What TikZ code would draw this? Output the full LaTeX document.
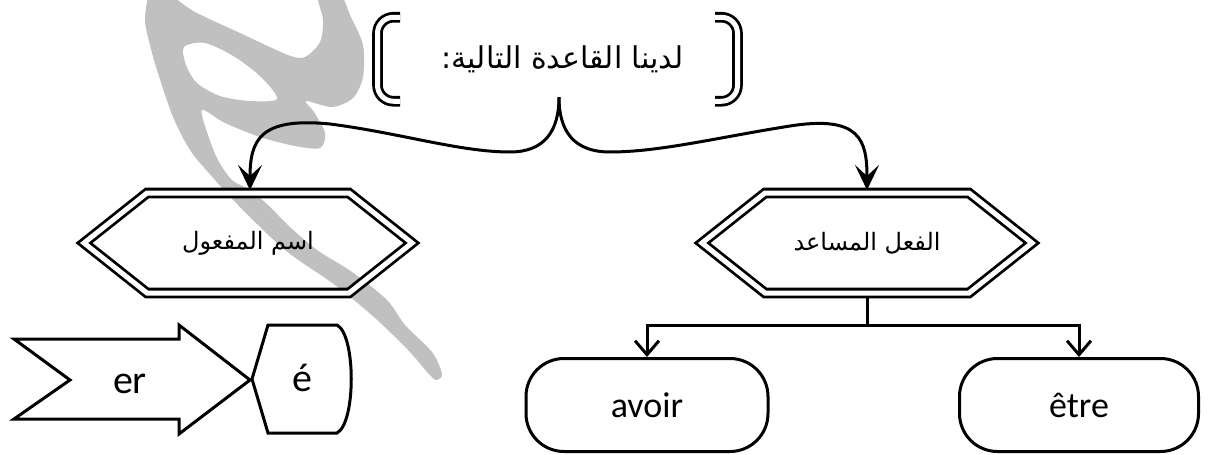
\documentclass[tikz,border=0pt]{standalone}
\usepackage{fontspec}
\setmainfont{Carlito}
\newfontfamily\arabicfont[Script=Arabic]{DejaVu Sans}
\TeXXeTstate=1
\usetikzlibrary{arrows.meta,calc}
\definecolor{wmgray}{HTML}{C0C0C0}
\begin{document}
\begin{tikzpicture}[x=1pt,y=-1pt,
  dbl/.style={draw, line width=2.8pt, double=white, double distance=5pt},
  ln/.style={line width=3pt},
  headtip/.style={-{Stealth[length=25pt,width=24pt,inset=11pt]}},
  barbtip/.style={-{Straight Barb[length=14pt,width=24pt]}},
  holder/.style={inner sep=0pt, outer sep=0pt},
  pill/.style={draw, line width=3pt, rounded corners=38pt, minimum height=93pt, font=\fontsize{36}{40}\selectfont},
  artext/.style={font=\arabicfont\fontsize{#1}{#1}\selectfont}
]
\useasboundingbox (0,0) rectangle (1208,455);

% watermark
\fill[wmgray, even odd rule]
  plot[smooth cycle, tension=0.5] coordinates {
    (150,-6) (145,20) (150,45) (157,70) (173,117) (190,150) (208,172)
    (238,205) (285,250) (335,285) (375,318) (408,350) (428,373) (436,380)
    (442,374) (432,352) (405,325) (387,300) (352,272) (317,250) (290,227)
    (268,205) (250,190) (232,180) (218,160) (208,135) (202,110)
    (225,123) (260,137) (295,146) (320,148) (325,133) (314,112) (306,101)
    (332,107) (353,98) (363,77) (363,45) (350,15) (340,-6) (318,-6)
    (323,20) (320,42) (305,57) (288,55) (240,33) (195,12) (168,-6)}
  plot[smooth cycle, tension=0.5] coordinates {
    (184,47) (205,43) (235,57) (262,78) (277,99) (250,101) (220,96) (197,83) (186,65)};

% top rule box
\node[holder, minimum width=360pt, minimum height=84pt, artext=30] (rule) at (557.5,59.25)
  {\hspace*{10pt}\beginR لدينا القاعدة التالية:\endR};
\draw[dbl, rounded corners=16pt] ($(rule.north west)+(22.5,0)$) -- (rule.north west) -- (rule.south west) -- ($(rule.south west)+(22.5,0)$);
\draw[dbl, rounded corners=16pt] ($(rule.north east)+(-22.5,0)$) -- (rule.north east) -- (rule.south east) -- ($(rule.south east)+(-22.5,0)$);

% hexagons
\node[holder, minimum width=328pt, minimum height=100pt, artext=24] (hexL) at (248,243)
  {\beginR اسم المفعول\endR};
\node[holder, minimum width=330pt, minimum height=100pt, artext=24] (hexR) at (867,243)
  {\beginR الفعل المساعد\endR};
\draw[dbl] (hexL.west) -- ($(hexL.north)+(-101,0)$) -- ($(hexL.north)+(101,0)$) -- (hexL.east)
  -- ($(hexL.south)+(101,0)$) -- ($(hexL.south)+(-101,0)$) -- cycle;
\draw[dbl] (hexR.west) -- ($(hexR.north)+(-102,0)$) -- ($(hexR.north)+(102,0)$) -- (hexR.east)
  -- ($(hexR.south)+(102,0)$) -- ($(hexR.south)+(-102,0)$) -- cycle;

% brace connectors
\draw[ln, headtip] ($(rule.south)+(1.5,-4)$) .. controls +(0,33) and (545,152) .. (510,152)
  .. controls (460,152) and (400,133) .. (330,124)
  .. controls (260,117) and (250,140) .. ($(hexL.north)+(2,-3)$);
\draw[ln, headtip] ($(rule.south)+(1.5,-4)$) .. controls +(0,33) and (573,152) .. (610,152)
  .. controls (660,152) and (720,137) .. (790,126)
  .. controls (860,115) and (867,140) .. ($(hexR.north)+(0,-3)$);

% avoir / etre
\node[pill, minimum width=242pt] (avoir) at (647,405) {avoir};
\node[pill, minimum width=239pt] (etre) at (1079,405) {être};
\draw[ln] ($(hexR.south)+(0,5)$) -- ($(hexR.south)+(0,32)$) coordinate (split);
\draw[ln, barbtip] (split) -| (avoir.north);
\draw[ln, barbtip] (split) -| (etre.north);

% er / e
\node[holder, font=\fontsize{40}{44}\selectfont] (er) at (130,384) {er};
\draw[ln] (14,339) -- (179,339) -- (179,325) -- (250,380) -- (179,434) -- (179,419) -- (14,419) -- (70,380) -- cycle;
\node[holder, font=\fontsize{40}{44}\selectfont] (eac) at (302,378) {é};
\draw[ln] (268,325) -- (337,325) .. controls (356,335) and (356,423) .. (337,433) -- (268,433) -- (252,379) -- cycle;
\end{tikzpicture}
\end{document}
